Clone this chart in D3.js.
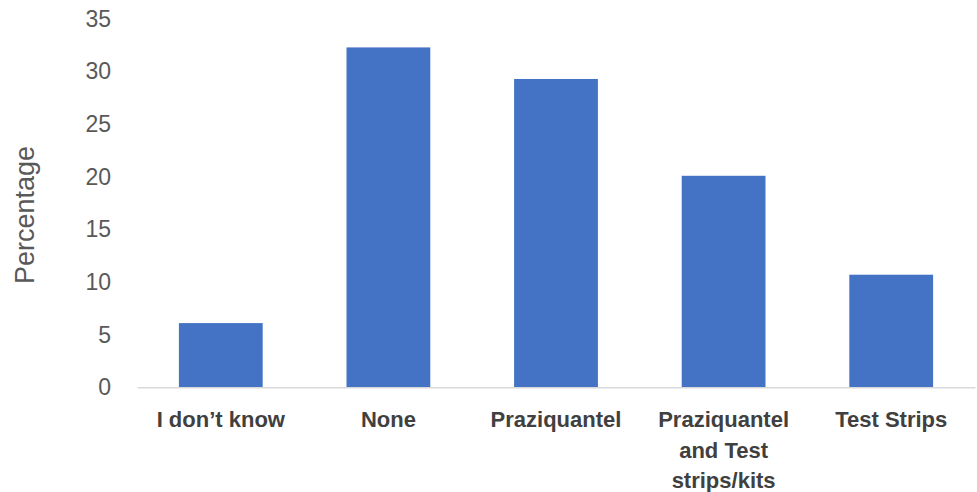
<!DOCTYPE html>
<html>
<head>
<meta charset="utf-8">
<script src="https://cdn.jsdelivr.net/npm/d3@7"></script>
<style>
  html, body { margin: 0; padding: 0; background: #ffffff; }
  svg { display: block; }
</style>
</head>
<body>
<svg id="chart" width="977" height="492"></svg>
<script>
const categories = ["I don\u2019t know", "None", "Praziquantel", "Praziquantel and Test strips/kits", "Test Strips"];
const values = [6.1, 32.3, 29.3, 20.1, 10.7];
const yTicks = [0, 5, 10, 15, 20, 25, 30, 35];
const yTitle = "Percentage";

const svg = d3.select("#chart");
const x = d3.scaleBand().domain(categories).range([137, 975]).paddingInner(0.5).paddingOuter(0.25);
const y = d3.scaleLinear().domain([0, 35]).range([387.3, 19]);

// bars
svg.append("g").selectAll("rect").data(categories).join("rect")
  .attr("x", d => x(d))
  .attr("width", x.bandwidth())
  .attr("y", (d, i) => y(values[i]))
  .attr("height", (d, i) => y(0) - y(values[i]))
  .attr("fill", "#4472c4");

// y axis (labels only)
const yAxis = d3.axisLeft(y).tickValues(yTicks).tickSize(0).tickPadding(0).tickFormat(d3.format("d"));
const gy = svg.append("g").attr("transform", "translate(111,0)").call(yAxis);
gy.select(".domain").remove();
gy.selectAll("text")
  .attr("fill", "#595959")
  .style("font-family", "'Liberation Sans', Arial, sans-serif")
  .style("font-size", "23px");

// x axis
const xAxis = d3.axisBottom(x).tickSize(0).tickPadding(0);
const gx = svg.append("g").attr("transform", `translate(0,${y(0)})`).call(xAxis);
gx.select(".domain").attr("stroke", "#d9d9d9").attr("stroke-width", 1.5);
gx.selectAll(".tick text")
  .attr("fill", "#404040")
  .attr("y", 40)
  .attr("dy", 0)
  .style("font-family", "'Liberation Sans', Arial, sans-serif")
  .style("font-size", "22px")
  .style("font-weight", "bold")
  .each(function(d) {
    const t = d3.select(this);
    const words = d.split(" ");
    t.text(null);
    let lines = [];
    let cur = [];
    const probe = t.append("tspan");
    words.forEach(w => {
      const test = cur.concat([w]).join(" ");
      probe.text(test);
      if (probe.node().getComputedTextLength() > 145 && cur.length) {
        lines.push(cur.join(" "));
        cur = [w];
      } else {
        cur.push(w);
      }
    });
    lines.push(cur.join(" "));
    probe.remove();
    lines.forEach((ln, i) => {
      t.append("tspan").attr("x", 0).attr("y", 40 + i * 30.5).text(ln);
    });
  });

// y title
svg.append("text")
  .attr("transform", "translate(34,215) rotate(-90)")
  .attr("text-anchor", "middle")
  .attr("fill", "#595959")
  .style("font-family", "'Liberation Sans', Arial, sans-serif")
  .style("font-size", "27px")
  .text(yTitle);
</script>
</body>
</html>
